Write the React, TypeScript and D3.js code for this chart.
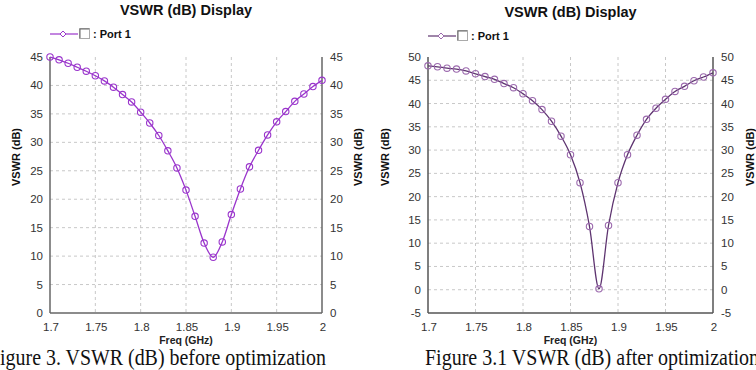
import React from "react";
import * as d3 from "d3";

const freqs = [1.70,1.71,1.72,1.73,1.74,1.75,1.76,1.77,1.78,1.79,1.80,1.81,1.82,1.83,1.84,1.85,1.86,1.87,1.88,1.89,1.90,1.91,1.92,1.93,1.94,1.95,1.96,1.97,1.98,1.99,2.00];
const vswrBefore = [45.0,44.5,43.9,43.2,42.5,41.7,40.8,39.7,38.4,37.1,35.3,33.4,31.2,28.5,25.5,21.6,17.0,12.3,9.8,12.5,17.3,21.8,25.7,28.6,31.3,33.6,35.4,37.2,38.5,39.8,40.9];
const vswrAfter = [48.1,47.9,47.6,47.4,47.0,46.4,45.8,45.2,44.3,43.4,42.1,40.6,38.7,36.2,33.0,29.0,23.0,13.6,0.2,13.8,23.0,29.0,33.2,36.6,39.0,40.9,42.6,43.7,44.9,45.7,46.6];
const xTicks = [1.7,1.75,1.8,1.85,1.9,1.95,2.0];
const xTickLabels = ["1.7","1.75","1.8","1.85","1.9","1.95","2"];
const yTicksBefore = [0,5,10,15,20,25,30,35,40,45];
const yTicksAfter = [-5,0,5,10,15,20,25,30,35,40,45,50];
const chartTitle = "VSWR (dB) Display";
const legendLabel = ": Port 1";
const xTitle = "Freq (GHz)";
const yTitle = "VSWR (dB)";
const captionBefore = "Figure 3. VSWR (dB) before optimization";
const captionAfter = "Figure 3.1 VSWR (dB) after optimization";

const SANS = "'Liberation Sans', Arial, sans-serif";

type ChartProps = {
  values: number[];
  yTicks: number[];
  left: number;
  right: number;
  top: number;
  bottom: number;
  lineColor: string;
  markerColor: string;
  axisColor: string;
  yTitleLeftX: number;
  yTitleRightX: number;
  titleY: number;
  legendY: number;
  caption: string;
  captionX: number;
  captionW: number;
};

function Chart(p: ChartProps) {
  const x = d3.scaleLinear().domain([1.7, 2.0]).range([p.left, p.right]);
  const y = d3
    .scaleLinear()
    .domain([p.yTicks[0], p.yTicks[p.yTicks.length - 1]])
    .range([p.bottom, p.top]);
  const line = d3
    .line<number>()
    .x((_, i) => x(freqs[i]))
    .y((d) => y(d))
    .curve(d3.curveMonotoneX);
  const cx = (p.left + p.right) / 2;
  const cy = 157;
  const lx = p.left;
  return (
    <g>
      <text x={cx} y={p.titleY} textAnchor="middle" fontFamily={SANS} fontWeight="bold" fontSize={14.5} fill="#111">
        {chartTitle}
      </text>
      {/* legend */}
      <line x1={lx} x2={lx + 28} y1={p.legendY} y2={p.legendY} stroke={p.lineColor} strokeWidth={1.2} />
      <path
        d={`M${lx + 13},${p.legendY - 3} L${lx + 16},${p.legendY} L${lx + 13},${p.legendY + 3} L${lx + 10},${p.legendY} Z`}
        fill="white"
        stroke={p.markerColor}
        strokeWidth={1}
      />
      <rect x={lx + 29.5} y={p.legendY - 5.5} width={10} height={10} fill="white" stroke="#aaa" strokeWidth={1} />
      <path d={`M${lx + 30},${p.legendY + 4} V${p.legendY - 5} H${lx + 39}`} fill="none" stroke="#666" strokeWidth={1} />
      <text x={lx + 43} y={p.legendY + 4} fontFamily={SANS} fontWeight="bold" fontSize={11} fill="#111">
        {legendLabel}
      </text>
      {/* grid */}
      {p.yTicks.slice(1, -1).map((t) => (
        <line key={"gy" + t} x1={p.left} x2={p.right} y1={y(t)} y2={y(t)} stroke="#c8c8c8" strokeDasharray="3,3" strokeWidth={1} />
      ))}
      {xTicks.slice(1, -1).map((t) => (
        <line key={"gx" + t} x1={x(t)} x2={x(t)} y1={p.top} y2={p.bottom} stroke="#c8c8c8" strokeDasharray="3,3" strokeWidth={1} />
      ))}
      {/* axes */}
      <line x1={p.left} x2={p.left} y1={p.top} y2={p.bottom} stroke={p.axisColor} strokeWidth={1.5} />
      <line x1={p.right} x2={p.right} y1={p.top} y2={p.bottom} stroke={p.axisColor} strokeWidth={1.5} />
      <line x1={p.left} x2={p.right} y1={p.bottom} y2={p.bottom} stroke={p.axisColor} strokeWidth={1.5} />
      {/* tick labels */}
      {p.yTicks.map((t) => (
        <g key={"yl" + t} fontFamily={SANS} fontSize={11.5} fill="#333">
          <text x={p.left - 7} y={y(t) + 4} textAnchor="end">{t}</text>
          <text x={p.right + 8} y={y(t) + 4} textAnchor="start">{t}</text>
        </g>
      ))}
      {xTicks.map((t, i) => (
        <text key={"xl" + t} x={x(t) + 1} y={p.bottom + 18} textAnchor="middle" fontFamily={SANS} fontSize={11.5} fill="#333">
          {xTickLabels[i]}
        </text>
      ))}
      <text x={cx} y={p.bottom + 31} textAnchor="middle" fontFamily={SANS} fontWeight="bold" fontSize={10.5} fill="#222">
        {xTitle}
      </text>
      <text transform={`translate(${p.yTitleLeftX},${cy}) rotate(-90)`} textAnchor="middle" fontFamily={SANS} fontWeight="bold" fontSize={11} fill="#111">
        {yTitle}
      </text>
      <text transform={`translate(${p.yTitleRightX},${cy}) rotate(-90)`} textAnchor="middle" fontFamily={SANS} fontWeight="bold" fontSize={11} fill="#111">
        {yTitle}
      </text>
      {/* curve */}
      <path d={line(p.values) || ""} fill="none" stroke={p.lineColor} strokeWidth={1.3} />
      {p.values.map((v, i) => (
        <circle key={"m" + i} cx={x(freqs[i])} cy={y(v)} r={3.2} fill="none" stroke={p.markerColor} strokeWidth={1.1} />
      ))}
      {/* caption */}
      <text
        x={p.captionX}
        y={365}
        fontFamily="'Liberation Serif', 'Times New Roman', serif"
        fontSize={23}
        fill="#111"
        textLength={p.captionW}
        lengthAdjust="spacingAndGlyphs"
      >
        {p.caption}
      </text>
    </g>
  );
}

export default function App() {
  return (
    <svg width={756} height={370} style={{ position: "absolute", left: 0, top: 0, background: "white" }}>
      <rect x={0} y={0} width={756} height={370} fill="white" />
      <Chart
        values={vswrBefore}
        yTicks={yTicksBefore}
        left={50}
        right={322}
        top={57}
        bottom={313}
        lineColor="#9a35cc"
        markerColor="#9a35cc"
        axisColor="#666"
        yTitleLeftX={20}
        yTitleRightX={362}
        titleY={15}
        legendY={34}
        caption={captionBefore}
        captionX={-11}
        captionW={337}
      />
      <Chart
        values={vswrAfter}
        yTicks={yTicksAfter}
        left={428}
        right={713}
        top={57}
        bottom={313}
        lineColor="#5e3470"
        markerColor="#9c6aae"
        axisColor="#555"
        yTitleLeftX={389}
        yTitleRightX={754}
        titleY={17}
        legendY={36}
        caption={captionAfter}
        captionX={425}
        captionW={334}
      />
    </svg>
  );
}
